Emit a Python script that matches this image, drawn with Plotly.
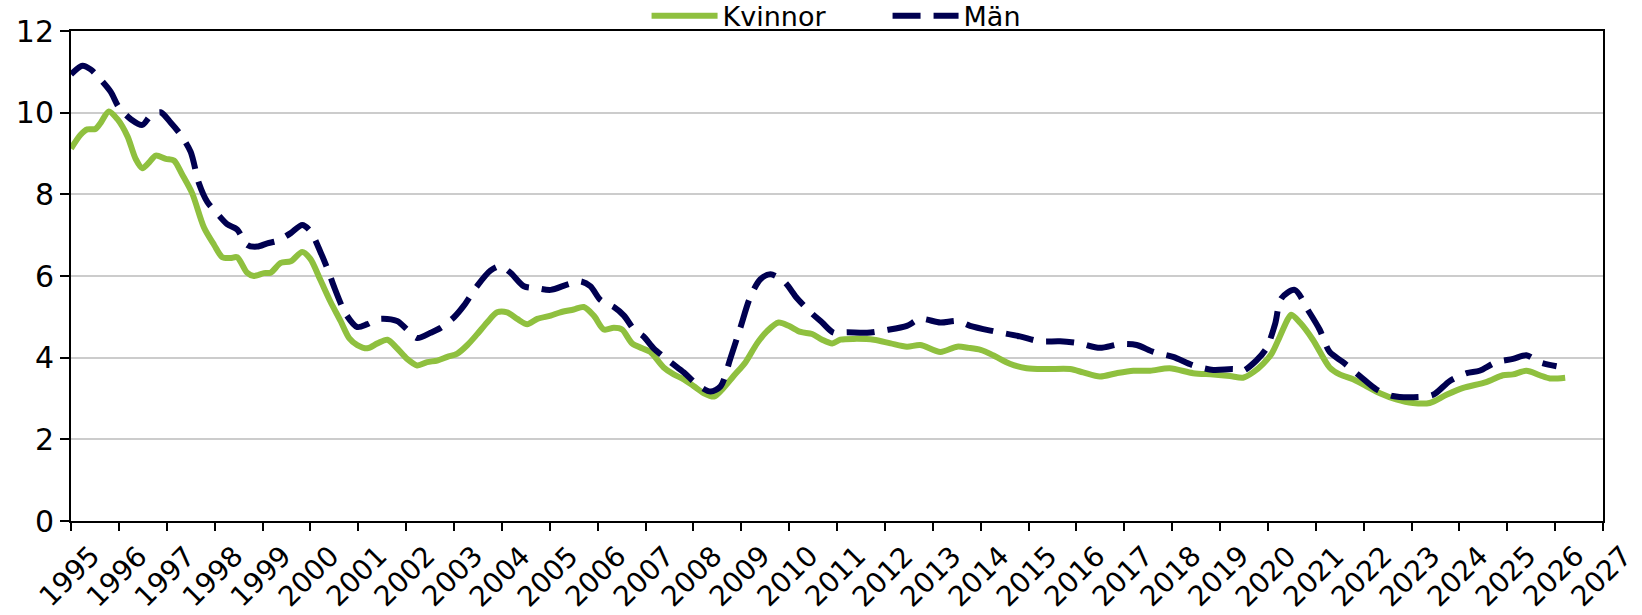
import plotly.graph_objects as go

# ---- data ----
kv_years = [1995.00, 1995.20, 1995.34, 1995.51, 1995.62, 1995.79, 1995.97, 1996.18, 1996.35, 1996.49,
            1996.63, 1996.77, 1996.98, 1997.15, 1997.32, 1997.53, 1997.78, 1997.99, 1998.16, 1998.33,
            1998.47, 1998.68, 1998.82, 1999.03, 1999.17, 1999.38, 1999.59, 1999.83, 2000.00, 2000.21,
            2000.42, 2000.63, 2000.81, 2000.98, 2001.19, 2001.40, 2001.61, 2001.81, 2002.02, 2002.23,
            2002.44, 2002.65, 2002.86, 2003.07, 2003.28, 2003.48, 2003.69, 2003.90, 2004.11, 2004.32,
            2004.53, 2004.74, 2005.02, 2005.22, 2005.50, 2005.71, 2005.92, 2006.13, 2006.34, 2006.51,
            2006.72, 2006.93, 2007.10, 2007.38, 2007.59, 2007.80, 2008.01, 2008.22, 2008.43, 2008.60,
            2008.84, 2009.09, 2009.33, 2009.54, 2009.78, 2009.99, 2010.24, 2010.48, 2010.69, 2010.90,
            2011.07, 2011.35, 2011.77, 2012.12, 2012.46, 2012.74, 2013.16, 2013.51, 2013.75, 2014.00,
            2014.26, 2014.61, 2014.96, 2015.38, 2015.87, 2016.14, 2016.49, 2016.84, 2017.19, 2017.54,
            2017.95, 2018.44, 2018.86, 2019.21, 2019.48, 2019.69, 2019.90, 2020.08, 2020.25, 2020.42,
            2020.49, 2020.67, 2020.94, 2021.29, 2021.50, 2021.78, 2022.06, 2022.34, 2022.68, 2023.03,
            2023.38, 2023.73, 2024.08, 2024.56, 2024.91, 2025.12, 2025.40, 2025.68, 2025.89, 2026.21]
kvinnor = [9.12, 9.46, 9.59, 9.60, 9.75, 10.03, 9.84, 9.42, 8.87, 8.64,
           8.78, 8.95, 8.87, 8.83, 8.49, 8.03, 7.18, 6.76, 6.46, 6.44,
           6.46, 6.08, 6.00, 6.07, 6.08, 6.32, 6.36, 6.59, 6.42, 5.90,
           5.37, 4.90, 4.48, 4.31, 4.23, 4.35, 4.44, 4.23, 3.97, 3.81,
           3.89, 3.93, 4.02, 4.10, 4.31, 4.57, 4.86, 5.11, 5.11, 4.95,
           4.82, 4.95, 5.03, 5.11, 5.18, 5.24, 5.03, 4.69, 4.73, 4.69,
           4.35, 4.23, 4.14, 3.76, 3.59, 3.47, 3.30, 3.13, 3.05, 3.22,
           3.55, 3.89, 4.35, 4.65, 4.86, 4.78, 4.63, 4.58, 4.44, 4.35,
           4.44, 4.46, 4.44, 4.35, 4.27, 4.31, 4.14, 4.27, 4.24, 4.19,
           4.06, 3.85, 3.74, 3.72, 3.72, 3.64, 3.54, 3.62, 3.68, 3.68,
           3.74, 3.62, 3.59, 3.55, 3.51, 3.64, 3.85, 4.10, 4.52, 4.95,
           5.05, 4.86, 4.44, 3.76, 3.59, 3.47, 3.30, 3.13, 2.98, 2.89,
           2.89, 3.09, 3.26, 3.40, 3.57, 3.59, 3.68, 3.57, 3.49, 3.51]

man_years = [1995.00, 1995.24, 1995.41, 1995.62, 1995.83, 1996.00, 1996.25, 1996.49, 1996.66, 1996.87,
             1997.08, 1997.29, 1997.50, 1997.67, 1997.85, 1998.06, 1998.26, 1998.47, 1998.68, 1998.89,
             1999.10, 1999.31, 1999.59, 1999.83, 2000.00, 2000.21, 2000.39, 2000.49, 2000.74, 2000.98,
             2001.19, 2001.43, 2001.81, 2002.02, 2002.23, 2002.51, 2002.72, 2003.00, 2003.21, 2003.48,
             2003.76, 2003.97, 2004.18, 2004.46, 2004.74, 2005.02, 2005.36, 2005.64, 2005.85, 2006.06,
             2006.34, 2006.55, 2006.76, 2006.96, 2007.17, 2007.52, 2007.80, 2008.08, 2008.36, 2008.57,
             2008.77, 2008.98, 2009.19, 2009.40, 2009.61, 2009.89, 2010.17, 2010.45, 2010.69, 2010.93,
             2011.21, 2011.63, 2012.05, 2012.46, 2012.74, 2013.16, 2013.51, 2013.78, 2014.26, 2014.82,
             2015.24, 2015.66, 2016.07, 2016.49, 2016.91, 2017.26, 2017.61, 2018.02, 2018.44, 2018.86,
             2019.28, 2019.48, 2019.76, 2019.97, 2020.15, 2020.28, 2020.56, 2020.84, 2021.08, 2021.29,
             2021.57, 2021.92, 2022.27, 2022.61, 2023.03, 2023.45, 2023.80, 2024.15, 2024.42, 2024.77,
             2025.12, 2025.40, 2025.68, 2026.03]
man = [10.94, 11.15, 11.06, 10.81, 10.51, 10.13, 9.84, 9.70, 9.92, 10.01,
       9.76, 9.46, 9.04, 8.28, 7.81, 7.52, 7.27, 7.14, 6.76, 6.72,
       6.80, 6.86, 7.05, 7.25, 7.10, 6.59, 6.08, 5.75, 5.07, 4.75,
       4.82, 4.95, 4.90, 4.69, 4.48, 4.61, 4.73, 4.99, 5.28, 5.75,
       6.13, 6.24, 6.08, 5.75, 5.70, 5.66, 5.79, 5.87, 5.75, 5.41,
       5.24, 5.03, 4.69, 4.52, 4.23, 3.89, 3.64, 3.34, 3.17, 3.30,
       3.97, 4.73, 5.49, 5.92, 6.04, 5.87, 5.45, 5.11, 4.86, 4.61,
       4.62, 4.61, 4.68, 4.78, 4.95, 4.86, 4.90, 4.78, 4.65, 4.52,
       4.40, 4.40, 4.35, 4.24, 4.33, 4.31, 4.14, 4.02, 3.81, 3.70,
       3.72, 3.68, 3.93, 4.23, 4.82, 5.45, 5.66, 5.16, 4.69, 4.14,
       3.89, 3.55, 3.22, 3.06, 3.03, 3.09, 3.43, 3.62, 3.68, 3.89,
       3.97, 4.06, 3.89, 3.79]

tick_years = list(range(1995, 2028))
tick_labels = [str(y) for y in tick_years]
y_ticks = [0, 2, 4, 6, 8, 10, 12]

FONT = "DejaVu Sans"
GREEN = "#8FC03F"
NAVY = "#000050"

fig = go.Figure()
fig.add_trace(go.Scatter(
    x=kv_years, y=kvinnor, name="Kvinnor", mode="lines",
    line=dict(color=GREEN, width=6, shape="spline", smoothing=0.8),
))
fig.add_trace(go.Scatter(
    x=man_years, y=man, name="Män", mode="lines",
    line=dict(color=NAVY, width=6, shape="spline", smoothing=0.8, dash="28px,13px"),
))

# x tick labels: rotated, centred under each tick (as in the reference)
for yr, lab in zip(tick_years, tick_labels):
    fig.add_annotation(
        x=yr, xref="x", y=-0.113, yref="paper", text=lab, showarrow=False,
        textangle=-45, xanchor="center", yanchor="middle", xshift=-2, borderpad=0,
        font=dict(family=FONT, size=28, color="black"),
    )

fig.update_layout(
    width=1642, height=615,
    margin=dict(l=71, r=39, t=31, b=94, autoexpand=False),
    paper_bgcolor="white", plot_bgcolor="white",
    font=dict(family=FONT, color="black", size=28),
    showlegend=True,
    legend=dict(orientation="h", x=0.533, xanchor="center", y=1.03, yanchor="middle",
                font=dict(family=FONT, size=27, color="black"), bgcolor="rgba(0,0,0,0)",
                itemwidth=66, entrywidth=160),
    xaxis=dict(
        range=[1995, 2027], tickmode="array", tickvals=tick_years, showticklabels=False,
        ticks="outside", ticklen=8, tickwidth=2, tickcolor="black",
        showline=True, linecolor="black", linewidth=2, mirror=True,
        showgrid=False, zeroline=False, automargin=False,
    ),
    yaxis=dict(
        range=[0, 12], tickmode="array", tickvals=y_ticks,
        ticks="outside", ticklen=9, tickwidth=2, tickcolor="black",
        showline=True, linecolor="black", linewidth=2, mirror=True,
        showgrid=True, gridcolor="#CCCCCC", gridwidth=2, zeroline=False, automargin=False,
        tickfont=dict(family=FONT, size=30, color="black"),
    ),
)

fig.write_html("out.html", config={"displayModeBar": False},
               post_script="document.body.style.margin='0';document.body.style.overflow='hidden';")
